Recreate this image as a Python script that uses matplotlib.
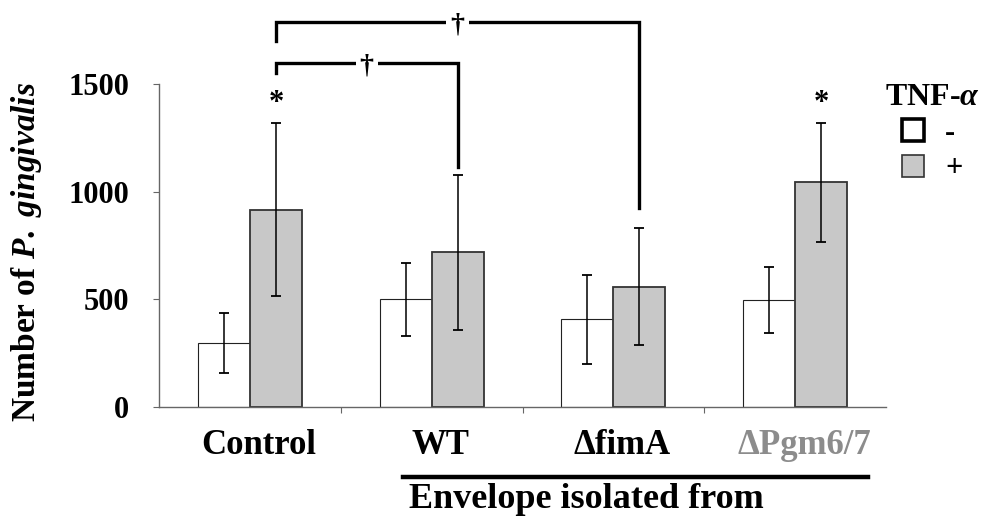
import matplotlib
matplotlib.use("Agg")
import matplotlib.pyplot as plt
import numpy as np
from matplotlib.patches import Patch
from matplotlib import transforms

plt.rcParams['font.family'] = ['Liberation Serif', 'DejaVu Serif']
plt.rcParams['font.weight'] = 'bold'
plt.rcParams['mathtext.fontset'] = 'custom'
plt.rcParams['mathtext.rm'] = 'Liberation Serif:bold'
plt.rcParams['mathtext.it'] = 'Liberation Serif:italic:bold'
plt.rcParams['mathtext.bf'] = 'Liberation Serif:bold'

# ---- data ----
categories = ['Control', 'WT', '\u0394fimA', '\u0394Pgm6/7']
category_colors = ['black', 'black', 'black', '#8c8c8c']
tnf_minus = [296, 500, 407, 497]
tnf_minus_sd = [140, 168, 205, 152]
tnf_plus = [917, 718, 559, 1043]
tnf_plus_sd = [400, 360, 270, 275]
y_ticks = [0, 500, 1000, 1500]
legend_labels = ['-', '+']
legend_title = r'TNF-$\alpha$'
ylabel = r'Number of $\mathit{P.\ gingivalis}$'
group_label = 'Envelope isolated from'

# significance brackets: (from group, to group, bracket height, left drop, right drop)
brackets = [
    (0, 1, 1598, 1551, 1115),
    (0, 2, 1788, 1700, 924),
]
star_groups = [0, 3]
star_height = 1408

# ---- figure ----
W, H = 984, 520
fig = plt.figure(figsize=(W / 100, H / 100), dpi=100)
ax_left, ax_right = 159, 886
ax_bottom, ax_top = 407, 5
ax = fig.add_axes([ax_left / W, (H - ax_bottom) / H,
                   (ax_right - ax_left) / W, (ax_bottom - ax_top) / H])
px_per_unit = 323 / 1500
ax.set_xlim(-0.5, 3.5)
ax.set_ylim(0, (ax_bottom - ax_top) / px_per_unit)

x = np.arange(len(categories))
off = 0.143
bw = 0.286
grey = '#c8c8c8'

ax.bar(x - off, tnf_minus, width=bw, color='white', edgecolor='#222222',
       linewidth=0.8, zorder=2)
ax.bar(x + off, tnf_plus, width=bw, color=grey, edgecolor='#333333',
       linewidth=1.3, zorder=2)
ekw = dict(fmt='none', ecolor='black', elinewidth=1.1, capsize=3.3,
           capthick=1.3, zorder=3)
ax.errorbar(x - off, tnf_minus, yerr=tnf_minus_sd, **ekw)
ax.errorbar(x + off, tnf_plus, yerr=tnf_plus_sd, **ekw)

# spines
for s in ['top', 'right']:
    ax.spines[s].set_visible(False)
ax.spines['left'].set_bounds(0, 1500)
for s in ['left', 'bottom']:
    ax.spines[s].set_color('#666666')
    ax.spines[s].set_linewidth(1.0)
ax.spines['bottom'].set_zorder(4)

ax.set_yticks(y_ticks)
ax.set_yticklabels([str(v) for v in y_ticks], fontsize=22, fontweight='bold')
ax.tick_params(axis='y', direction='out', length=4, width=0.8,
               color='#666666', pad=17.5)
ax.set_xticks([])
ax.set_xticks([0.5, 1.5, 2.5], minor=True)
ax.tick_params(axis='x', which='minor', direction='out', length=4,
               width=0.8, color='#666666')

ax.set_ylabel(ylabel, fontsize=24, fontweight='bold')
ax.yaxis.set_label_coords((44 - ax_left) / (ax_right - ax_left), 0.385)

# category labels
trans = transforms.blended_transform_factory(ax.transData, fig.transFigure)
for i, (c, col) in enumerate(zip(categories, category_colors)):
    ax.text(x[i] + 0.05, (H - 445) / H, c, transform=trans, ha='center',
            va='center', fontsize=25, fontweight='bold', color=col)

# group underline and label
fig.add_artist(plt.Line2D([403 / W, 868 / W], [(H - 477) / H] * 2,
                          color='black', linewidth=3.2))
fig.text(586 / W, (H - 500) / H, group_label, ha='center', va='center',
         fontsize=26, fontweight='bold')

# brackets
for g1, g2, hgt, d1, d2 in brackets:
    x1, x2 = x[g1] + off, x[g2] + off
    ax.plot([x1, x1, x2, x2], [d1, hgt, hgt, d2], color='black',
            linewidth=2.4, solid_joinstyle='miter', zorder=3, clip_on=False)
    ax.text((x1 + x2) / 2, hgt - 15, '\u2020', ha='center', va='center',
            fontsize=20, fontweight='bold', zorder=5,
            bbox=dict(facecolor='white', edgecolor='none', pad=3))

for g in star_groups:
    ax.text(x[g] + off, star_height, '*', ha='center', va='center',
            fontsize=22, fontweight='bold')

# legend
handles = [Patch(facecolor='white', edgecolor='black', linewidth=2.6),
           Patch(facecolor=grey, edgecolor='#333333', linewidth=1.2)]
leg = fig.legend(handles, legend_labels, title=legend_title,
                 loc='upper center', bbox_to_anchor=(932 / W, (H - 83) / H),
                 frameon=False, fontsize=22, title_fontsize=23,
                 handlelength=0.72, handleheight=0.72, handletextpad=0.7,
                 labelspacing=0.22, borderpad=0, borderaxespad=0)
leg.get_title().set_fontweight('bold')
for t in leg.get_texts():
    t.set_fontweight('bold')

fig.savefig('out.png', dpi=100)
